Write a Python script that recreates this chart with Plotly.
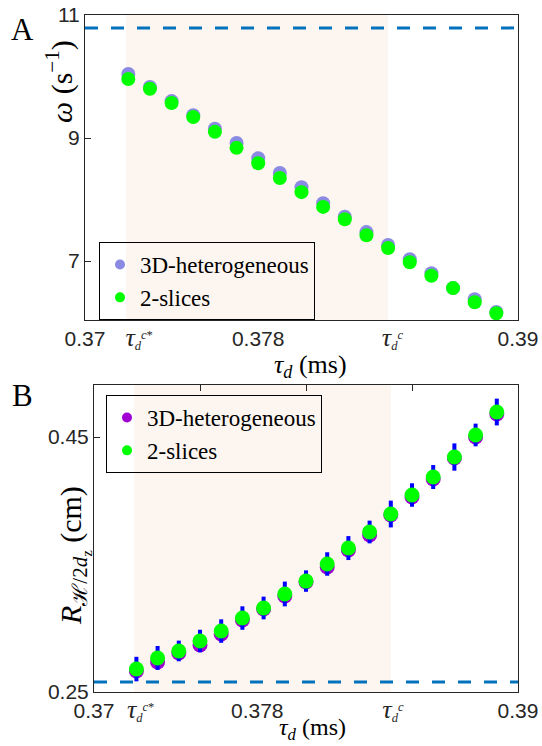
import plotly.graph_objects as go

# ---------------- data ----------------
TAU = [0.372, 0.373, 0.374, 0.375, 0.376, 0.377, 0.378, 0.379, 0.380,
       0.381, 0.382, 0.383, 0.384, 0.385, 0.386, 0.387, 0.388, 0.389]

OMEGA_3D = [10.04, 9.83, 9.60, 9.37, 9.15, 8.92, 8.67, 8.43, 8.20,
            7.94, 7.72, 7.47, 7.26, 7.03, 6.80, 6.56, 6.38, 6.17]
OMEGA_2S = [9.96, 9.80, 9.57, 9.34, 9.10, 8.84, 8.59, 8.35, 8.12,
            7.88, 7.68, 7.42, 7.21, 6.98, 6.76, 6.56, 6.33, 6.15]
OMEGA_LIMIT = 10.79

R_3D = [0.2665, 0.2735, 0.2806, 0.2869, 0.2955, 0.3065, 0.3151, 0.3253, 0.3363,
        0.3480, 0.3614, 0.3731, 0.3888, 0.4030, 0.4171, 0.4335, 0.4500, 0.4680]
R_2S = [0.2680, 0.2767, 0.2822, 0.2900, 0.2978, 0.3080, 0.3159, 0.3269, 0.3370,
        0.3504, 0.3629, 0.3755, 0.3896, 0.4045, 0.4186, 0.4343, 0.4516, 0.4696]
R_ERR = [0.0096, 0.0094, 0.0081, 0.0088, 0.0092, 0.0092, 0.0089, 0.0097, 0.0084,
         0.0092, 0.0094, 0.0089, 0.0105, 0.0092, 0.0094, 0.0107, 0.0089, 0.0105]
R_LIMIT = 0.2578

TAU_CSTAR = 0.3719
TAU_C = 0.384

X_TICKTEXT = ["0.37", "tcs", "0.378", "tc", "0.39"]

# ---------------- styling ----------------
W, H = 542, 746
SERIF = "Liberation Serif"
SANS = "Liberation Sans"
AXC = "#262626"
SHADE = "#FDF5EF"
LAV = "#8A8AE2"
GREEN = "#00FF00"
PURPLE = "#A000D2"
BLUE = "#0000FF"
DASH = "#0072BD"


def px_x(p):
    return p / W


def px_y(p):
    return 1 - p / H


TAU_LBL = ('<span style="font-family:%s;font-size:26px"><i>τ</i></span>'
           '<span style="font-family:%s;font-size:18px"><sub><i>d</i></sub>'
           '<sup><i>c</i>%s</sup></span>')
tick_lbl = {
    "tcs": TAU_LBL % (SERIF, SERIF, "*"),
    "tc": TAU_LBL % (SERIF, SERIF, ""),
}
ticktext = [tick_lbl.get(t, t) for t in X_TICKTEXT]

fig = go.Figure()

# ---- panel A ----
fig.add_trace(go.Scatter(x=TAU, y=OMEGA_3D, mode="markers", xaxis="x", yaxis="y",
                         marker=dict(color=LAV, size=14), showlegend=False))
fig.add_trace(go.Scatter(x=TAU, y=OMEGA_2S, mode="markers", xaxis="x", yaxis="y",
                         marker=dict(color=GREEN, size=14), showlegend=False))
fig.add_trace(go.Scatter(x=[None], y=[None], mode="markers", xaxis="x", yaxis="y",
                         marker=dict(color=LAV, size=10), name="3D-heterogeneous",
                         legend="legend"))
fig.add_trace(go.Scatter(x=[None], y=[None], mode="markers", xaxis="x", yaxis="y",
                         marker=dict(color=GREEN, size=10), name="2-slices",
                         legend="legend"))

# ---- panel B ----
fig.add_trace(go.Scatter(x=TAU, y=R_3D, mode="markers", xaxis="x2", yaxis="y2",
                         marker=dict(color=PURPLE, size=15), showlegend=False))
fig.add_trace(go.Scatter(x=TAU, y=R_2S, mode="markers", xaxis="x2", yaxis="y2",
                         marker=dict(color=GREEN, size=15), showlegend=False,
                         error_y=dict(type="data", array=R_ERR, color=BLUE,
                                      thickness=4, width=0)))
fig.add_trace(go.Scatter(x=[None], y=[None], mode="markers", xaxis="x2", yaxis="y2",
                         marker=dict(color=PURPLE, size=10), name="3D-heterogeneous",
                         legend="legend2"))
fig.add_trace(go.Scatter(x=[None], y=[None], mode="markers", xaxis="x2", yaxis="y2",
                         marker=dict(color=GREEN, size=10), name="2-slices",
                         legend="legend2"))
# an empty trace keeps the top-tick axis of panel B alive
fig.add_trace(go.Scatter(x=[None], y=[None], xaxis="x3", yaxis="y2", showlegend=False))

# shaded interval and dashed reference levels
for xr, yr, lvl in (("x", "y", OMEGA_LIMIT), ("x2", "y2", R_LIMIT)):
    fig.add_shape(type="rect", xref=xr, yref=yr + " domain", x0=TAU_CSTAR, x1=TAU_C,
                  y0=0, y1=1, fillcolor=SHADE, line_width=0, layer="below")
    fig.add_shape(type="line", xref=xr + " domain", yref=yr, x0=0, x1=1, y0=lvl, y1=lvl,
                  line=dict(color=DASH, width=3, dash="13px,13px"))

axis_common = dict(showline=True, linecolor=AXC, linewidth=1, mirror=True,
                   showgrid=False, zeroline=False, automargin=False,
                   tickfont=dict(family=SANS, size=21, color=AXC))

legend_common = dict(xanchor="left", yanchor="top", bgcolor="rgba(0,0,0,0)",
                     bordercolor="black", borderwidth=1,
                     font=dict(family=SERIF, size=23, color="black"),
                     tracegroupgap=0, itemwidth=30)

fig.update_layout(
    template="none",
    width=W, height=H, margin=dict(l=0, r=0, t=0, b=0, autoexpand=False),
    paper_bgcolor="white", plot_bgcolor="rgba(0,0,0,0)",
    xaxis=dict(axis_common, domain=[px_x(85), px_x(518)], range=[0.37, 0.39],
               anchor="y", ticks="", tickvals=[0.37, 0.3725, 0.378, 0.3842, 0.39],
               ticktext=ticktext),
    yaxis=dict(axis_common, domain=[px_y(320), px_y(15)], range=[6.041, 11],
               anchor="x", tickvals=[7, 9, 11], ticks="inside", ticklen=6,
               tickcolor=AXC),
    xaxis2=dict(axis_common, domain=[px_x(94), px_x(518)], range=[0.37, 0.39],
                anchor="y2", ticks="", tickvals=[0.37, 0.3722, 0.3777, 0.3841, 0.39],
                ticktext=ticktext),
    xaxis3=dict(domain=[px_x(94), px_x(518)], range=[0.37, 0.39], overlaying="x2",
                anchor="y2", side="top", ticks="inside", ticklen=6, tickcolor=AXC,
                tickvals=[0.375, 0.38, 0.385], showticklabels=False, showline=False,
                showgrid=False, zeroline=False, automargin=False),
    yaxis2=dict(axis_common, domain=[px_y(692), px_y(385)], range=[0.25, 0.4908],
                anchor="x2", tickvals=[0.25, 0.45], ticks="inside", ticklen=6,
                tickcolor=AXC),
    legend=dict(legend_common, x=px_x(99), y=px_y(242)),
    legend2=dict(legend_common, x=px_x(106), y=px_y(395)),
)

title_font = dict(family=SERIF, size=30, color="black")
xtitle_font = dict(family=SERIF, size=26, color="black")
annotations = [
    dict(text="A", x=px_x(22), y=px_y(29), font=dict(family=SERIF, size=31, color="black")),
    dict(text="B", x=px_x(22), y=px_y(395), font=dict(family=SERIF, size=31, color="black")),
    dict(text="<i>τ<sub>d</sub></i> (ms)", x=px_x(310), y=px_y(366), font=xtitle_font),
    dict(text="<i>τ<sub>d</sub></i> (ms)", x=px_x(312), y=px_y(729),
         font=dict(family=SERIF, size=24, color="black")),
    dict(text="<i>ω</i> (s<sup>−1</sup>)", x=px_x(60), y=px_y(82), textangle=-90,
         font=title_font),
    dict(text=('<i>R</i><sub><span style="font-family:DejaVu Serif">ℋ</span>/2'
               '<i>d</i><sub>z</sub></sub> (cm)'),
         x=px_x(74), y=px_y(556), textangle=-90, font=title_font),
]
for a in annotations:
    fig.add_annotation(xref="paper", yref="paper", showarrow=False,
                       xanchor="center", yanchor="middle", **a)

fig.write_html("out.html")
